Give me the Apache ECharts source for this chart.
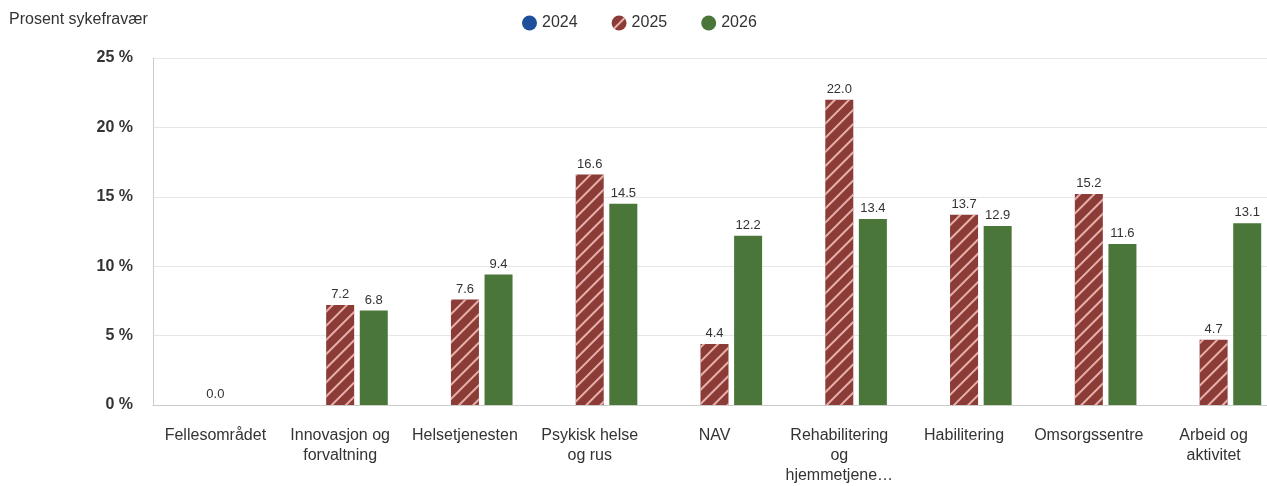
<!DOCTYPE html>
<html>
<head>
<meta charset="utf-8">
<script src="https://cdn.jsdelivr.net/npm/echarts@6/dist/echarts.min.js"></script>
<style>
html, body { margin: 0; padding: 0; background: #fff; overflow: hidden; }
#chartDiv { width: 1276px; height: 486px; }
</style>
</head>
<body>
<div id="chartDiv"></div>
<script>
// kategorier og verdier
var categories = ['Fellesområdet', 'Innovasjon og\nforvaltning', 'Helsetjenesten', 'Psykisk helse\nog rus', 'NAV',
	'Rehabilitering\nog\nhjemmetjene…', 'Habilitering', 'Omsorgssentre', 'Arbeid og\naktivitet'];
var years = ['2024', '2025', '2026'];
var values2024 = [null, null, null, null, null, null, null, null, null];
var values2025 = [0.0, 7.2, 7.6, 16.6, 4.4, 22.0, 13.7, 15.2, 4.7];
var values2026 = [null, 6.8, 9.4, 14.5, 12.2, 13.4, 12.9, 11.6, 13.1];
var yTicks = [0, 5, 10, 15, 20, 25];

var chart = echarts.init(document.getElementById('chartDiv'));

var labelStyle = {
	show: true,
	position: 'top',
	distance: 4,
	color: '#333',
	fontSize: 13,
	formatter: function(p) {
		if (p.value == null) return '';
		return Number(p.value).toFixed(1);
	}
};

var option = {
	animation: false,
	textStyle: { fontFamily: 'Liberation Sans, Arial, sans-serif' },
	title: {
		text: 'Prosent sykefravær',
		left: 4,
		top: 7,
		textStyle: { fontSize: 16, fontWeight: 'normal', color: '#333' }
	},
	legend: {
		data: years,
		top: 10,
		left: 517,
		icon: 'circle',
		itemWidth: 15,
		itemHeight: 15,
		itemGap: 34,
		textStyle: { fontSize: 16, color: '#333' }
	},
	grid: {
		left: 153,
		top: 58,
		width: 1123,
		height: 352,
		containLabel: false
	},
	xAxis: {
		type: 'category',
		data: categories,
		axisLine: { lineStyle: { color: '#ccc' } },
		axisTick: { show: false },
		axisLabel: {
			interval: 0,
			margin: 21,
			fontSize: 16,
			lineHeight: 20,
			color: '#333'
		}
	},
	yAxis: {
		type: 'value',
		min: yTicks[0],
		max: yTicks[yTicks.length - 1],
		interval: 5,
		axisLine: { show: true, lineStyle: { color: '#ccc' } },
		axisTick: { show: false },
		splitLine: { lineStyle: { color: '#e6e6e6' } },
		axisLabel: {
			margin: 20,
			fontSize: 16,
			fontWeight: 'bold',
			color: '#333',
			formatter: '{value} %'
		}
	},
	series: [{
		name: '2024',
		type: 'bar',
		barWidth: 28,
		barGap: '20%',
		itemStyle: { color: '#1d4f9b' },
		label: labelStyle,
		data: values2024
	}, {
		name: '2025',
		type: 'bar',
		barWidth: 28,
		barGap: '20%',
		itemStyle: {
			color: '#8c3c37',
			decal: {
				symbol: 'rect',
				dashArrayX: [1, 0],
				dashArrayY: [1.5, 8],
				rotation: -Math.PI / 4,
				color: 'rgba(255, 205, 200, 0.8)'
			}
		},
		label: labelStyle,
		data: values2025
	}, {
		name: '2026',
		type: 'bar',
		barWidth: 28,
		barGap: '20%',
		itemStyle: { color: '#4a7739' },
		label: labelStyle,
		data: values2026
	}]
};
chart.setOption(option);
</script>
</body>
</html>
